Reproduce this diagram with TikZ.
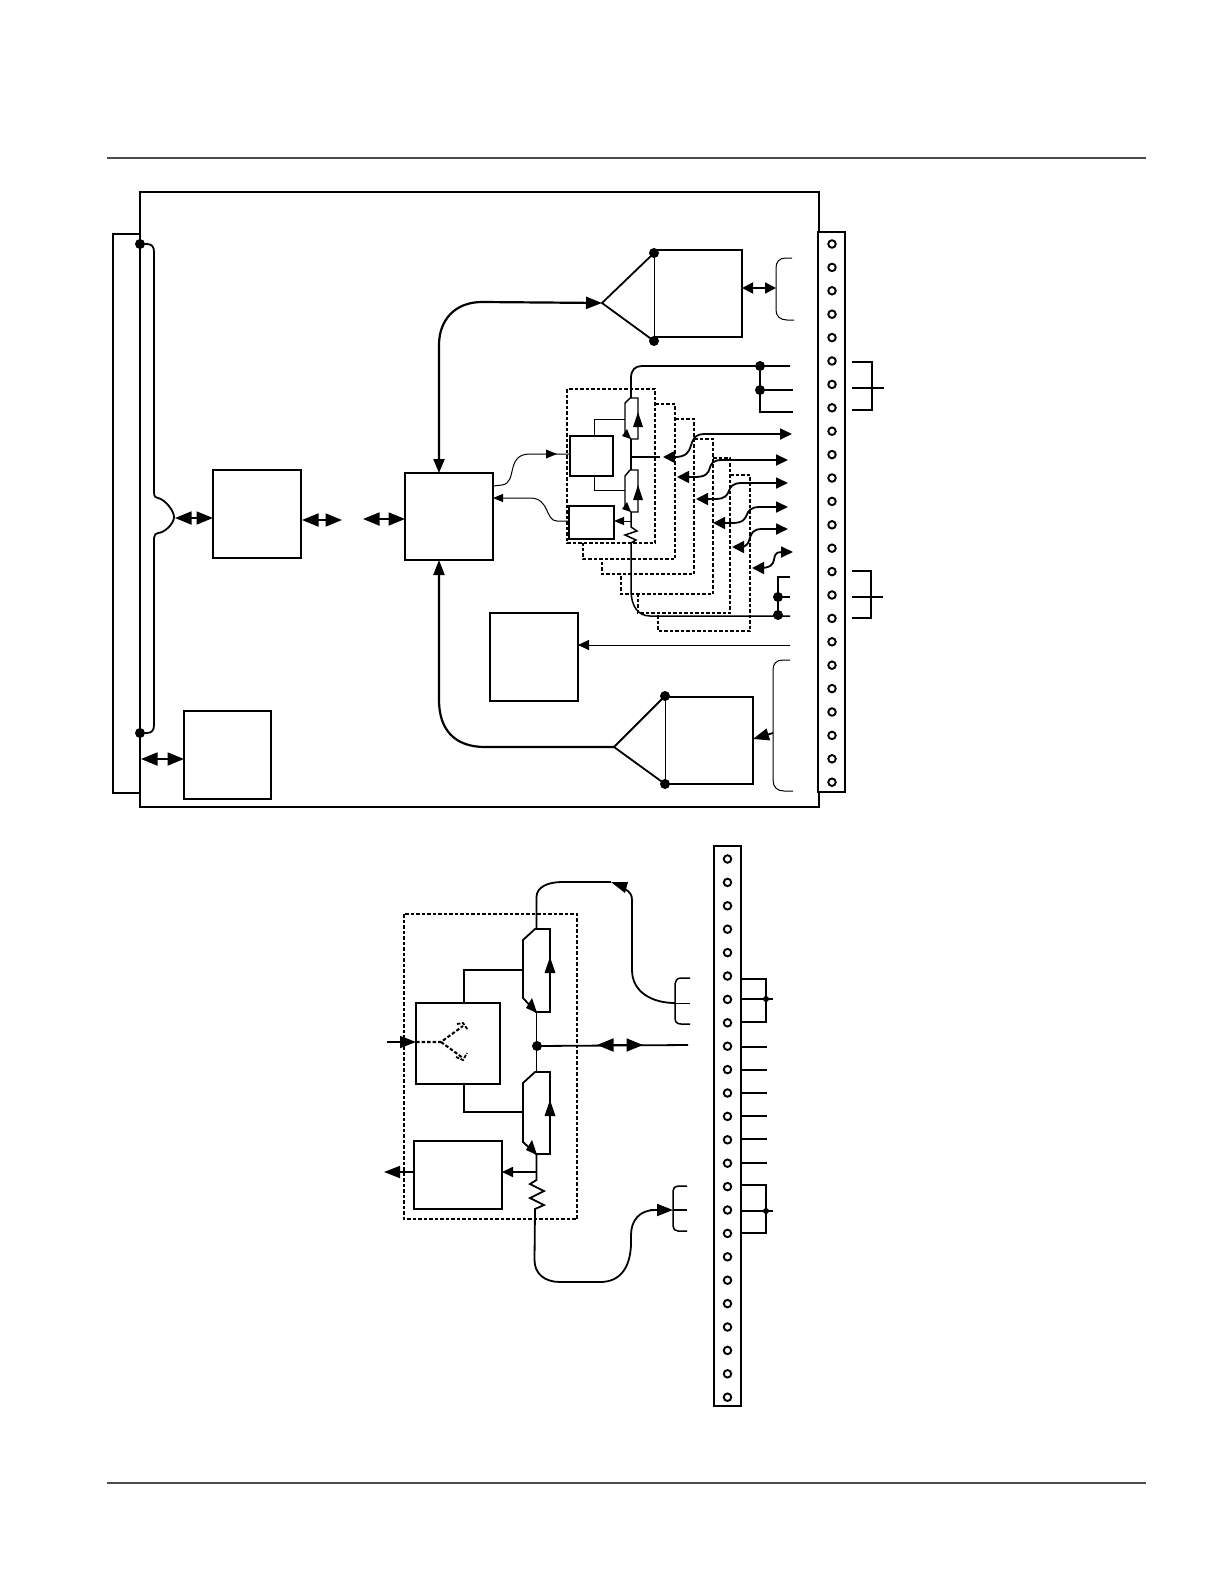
\documentclass[tikz,border=0pt]{standalone}
\usetikzlibrary{arrows.meta,calc}
\tikzset{
  x=1pt,y=-1pt,
  ln/.style={line width=1.8pt,draw=black},
  thick2/.style={line width=2.2pt,draw=black},
  thin1/.style={line width=1pt,draw=black},
  pbox/.style={draw=black,line width=1.8pt,fill=white,inner sep=0pt,outer sep=0pt,rectangle},
  tbox/.style={draw=black,line width=1pt,fill=white,inner sep=0pt,outer sep=0pt,rectangle},
  rule/.style={line width=1.4pt,draw=black!70},
  dbox/.style={line width=2.1pt,draw=black,dash pattern=on 3.5pt off 2pt},
  dotn/.style={circle,fill=black,inner sep=0pt,minimum size=10pt},
  smalldot/.style={circle,fill=black,inner sep=0pt,minimum size=6pt},
  term/.style={circle,draw=black,line width=1.9pt,fill=white,inner sep=0pt,minimum size=7.5pt},
  big/.style={-{Triangle[length=16pt,width=12pt]}},
  mid/.style={-{Triangle[length=11pt,width=10pt]}},
  small/.style={-{Triangle[length=10pt,width=8pt]}},
  bibig/.style={{Triangle[length=16.5pt,width=13pt]}-{Triangle[length=16.5pt,width=13pt]}},
  bimid/.style={{Triangle[length=11pt,width=11pt]}-{Triangle[length=11pt,width=11pt]}},
  bistair/.style={{Triangle[length=12pt,width=12pt]}-{Triangle[length=12pt,width=11pt]}},
}
\newcommand{\ptbox}[5]{\node[pbox,minimum width=#4pt-#2pt,minimum height=#5pt-#3pt] (#1) at ({(#2+#4)/2},{(#3+#5)/2}) {};}
\newcommand{\ttbox}[5]{\node[tbox,minimum width=#4pt-#2pt,minimum height=#5pt-#3pt] (#1) at ({(#2+#4)/2},{(#3+#5)/2}) {};}
\begin{document}
\begin{tikzpicture}
\useasboundingbox (0,0) rectangle (1224,1584);
\fill[white] (0,0) rectangle (1224,1584);
% page rules
\coordinate (r1a) at (107,158); \coordinate (r1b) at (1146,158);
\coordinate (r2a) at (107,1483); \coordinate (r2b) at (1146,1483);
\draw[rule] (r1a) -- (r1b);
\draw[rule] (r2a) -- (r2b);

%%% ---------- upper figure ----------
\draw[ln] (140,234) -- (113,234) -- (113,793) -- (140,793);
\draw[ln] (819,232) -- (819,192) -- (140,192) -- (140,807) -- (819,807) -- (819,792);
% terminal strip
\node[pbox,minimum width=27pt,minimum height=560pt] (stripA) at (831.5,512) {};
\foreach \i in {0,...,23} \node[term] (ta\i) at (832,{244+\i*23.4}) {};

% blocks
\ptbox{bA}{213}{470}{301}{558}
\ptbox{bB}{184}{711}{271}{799}
\ptbox{bC}{405}{473}{493}{560}
\ptbox{bD}{490}{613}{578}{701}

% bus
\node[dotn] (busT) at (140,244) {};
\node[dotn] (busB) at (140,733) {};
\coordinate (bump) at (174,517);
\draw[ln] (busT) -- (147,244) .. controls (152,244) and (154,247) .. (154,252) -- (154,492)
  .. controls (154,497) and (156,498) .. (158,498)
  .. controls (164,499) and (174,510) .. (bump)
  .. controls (174,524) and (164,533) .. (158,533)
  .. controls (156,533) and (154,535) .. (154,538) -- (154,725)
  .. controls (154,730) and (152,733) .. (147,733) -- (busB);

% double arrows
\coordinate (a1) at (175,518);
\draw[ln,bibig] (a1) -- (bA.west |- a1);
\coordinate (a2) at (302,520); \coordinate (a2b) at (342,520);
\draw[ln,bibig] (a2) -- (a2b);
\coordinate (a3) at (363,519);
\draw[ln,bibig] (a3) -- (bC.west |- a3);
\coordinate (a4) at (141,759);
\draw[ln,bibig] (a4) -- (bB.west |- a4);

% top amp
\ttbox{ampT}{654}{250}{742}{337}
\coordinate (ampTa) at (602,303);
\node[dotn] (dT1) at (654,253) {};
\node[dotn] (dT2) at (654,341) {};
\draw[ln] (dT1.center) -- (ampTa) -- (dT2.center);
\draw[ln] (654,250) -- (742,250) -- (742,337) -- (654,337);
\draw[thick2,{Triangle[length=14pt,width=11pt]}-{Triangle[length=16pt,width=12pt]}] (439,473) -- (439,345) .. controls (439,320) and (455,302) .. (482,302) -- (ampTa);
% top brace
\coordinate (brT1) at (792,258); \coordinate (brT2) at (794,320); \coordinate (brTm) at (776,288);
\draw[thin1] (brT1) -- (786,258) .. controls (779,258) and (776,262) .. (776,268) -- (776,310) .. controls (776,316) and (780,320) .. (787,320) -- (brT2);
\draw[ln,bimid] (ampT.east |- brTm) -- (brTm);

% bottom amp
\ttbox{ampB}{665}{697}{753}{784}
\coordinate (ampBa) at (614,747);
\node[dotn] (dB1) at (665,696) {};
\node[dotn] (dB2) at (665,784) {};
\draw[ln] (dB1.center) -- (ampBa) -- (dB2.center);
\draw[ln] (665,697) -- (753,697) -- (753,784) -- (665,784);
\draw[thick2,{Triangle[length=15pt,width=11pt]}-] (439,560) -- (439,700) .. controls (439,730) and (455,747) .. (485,747) -- (ampBa);
% bottom brace
\coordinate (brB1) at (790,660); \coordinate (brB2) at (793,791); \coordinate (brBm) at (773,733);
\draw[thin1] (brB1) -- (783,660) .. controls (776,660) and (773,664) .. (773,670) -- (773,780) .. controls (773,787) and (777,791) .. (784,791) -- (brB2);
\draw[ln,big] (brBm) -- (753,739);

% thin input to bD
\coordinate (dIn) at (790,645);
\draw[thin1,mid] (dIn) -- (bD.east |- dIn);

% dashed staircase (behind)
\draw[dbox] (655,404) -- (675,404) -- (675,559) -- (583,559) -- (583,543);
\draw[dbox] (675,419) -- (694,419) -- (694,574) -- (602,574) -- (602,559);
\draw[dbox] (694,439) -- (713,439) -- (713,594) -- (621,594) -- (621,574);
\draw[dbox] (713,458) -- (730,458) -- (730,613) -- (638,613) -- (638,594);
\draw[dbox] (730,475) -- (750,475) -- (750,631) -- (658,631) -- (658,613);
\draw[dbox] (567,389) rectangle (655,543);

% small blocks
\ptbox{sA}{570}{436}{613}{476}
\ptbox{sB}{569}{506}{614}{539}
% switches
\draw[thin1] (594,436) -- (594,419) -- (625,419);
\draw[thin1] (594,476) -- (594,490) -- (625,490);
\draw[ln,line width=1.4pt] (631,398) -- (630,398) -- (625,403) -- (625,433) -- (631,439) -- (638,439) -- (638,398) -- cycle;
\draw[ln,line width=1.4pt] (630,470) -- (625,476) -- (625,506) -- (631,512) -- (638,512) -- (638,470) -- cycle;
\fill (638,412) -- (633,427) -- (643,427) -- cycle;
\fill (638,485) -- (633,500) -- (643,500) -- cycle;
\fill (631,439) -- (622,436) -- (627,429) -- cycle;
\fill (631,512) -- (622,509) -- (627,502) -- cycle;
\draw[ln,line width=1.3pt] (631,439) -- (631,470);
\coordinate (sJ) at (631,457);
% lines
\draw[ln] (631,398) -- (631,378) .. controls (631,370) and (635,366) .. (642,366) -- (790,366);
\node[dotn] (d1) at (760,366) {};
\node[dotn] (d2) at (760,390) {};
\coordinate (s1) at (793,390); \coordinate (s2) at (793,412);
\draw[ln] (d2) -- (s1);
\draw[ln] (d1) -- (760,412) -- (s2);
\draw[ln,line width=1.5pt] (631,512) -- (631,527) -- (637,531) -- (625,535) -- (636,540) -- (631,543) -- (631,590)
  .. controls (631,606) and (638,616) .. (650,616) -- (790,616);
\coordinate (sBr) at (631,521);
\draw[thin1,small] (sBr) -- (sB.east |- sBr);
\node[dotn] (d3) at (778,597) {};
\node[dotn] (d4) at (778,615) {};
\coordinate (s3) at (790,597); \coordinate (s4) at (790,577);
\draw[ln] (d3) -- (s3);
\draw[ln] (d4) -- (778,577) -- (s4);

% arrows staircase
\coordinate (o1) at (792,434); \coordinate (o2) at (788,460); \coordinate (o3) at (788,483);
\coordinate (o4) at (788,507); \coordinate (o5) at (788,529); \coordinate (o6) at (793,552);
\draw[ln,bistair] (663,457) -- (673,457)
  .. controls (700,458) and (683,434) .. (705,434) -- (o1);
\draw[ln] (sJ) -- (660,457);
\draw[ln,bistair] (677,477) -- (695,477)
  .. controls (718,477) and (702,460) .. (722,460) -- (o2);
\draw[ln,bistair] (696,499) -- (715,499)
  .. controls (736,499) and (722,483) .. (742,483) -- (o3);
\draw[ln,bistair] (713,523) -- (732,523)
  .. controls (754,523) and (740,507) .. (760,507) -- (o4);
\draw[ln,bistair] (732,547) -- (740,547)
  .. controls (755,547) and (744,529) .. (762,529) -- (o5);
\draw[ln,bistair] (752,568) -- (760,568)
  .. controls (782,568) and (768,552) .. (o6);

% main block to small blocks
\coordinate (c1) at (493,486); \coordinate (c2) at (493,498);
\draw[thin1] (c1) -- (502,485) .. controls (518,483) and (505,454) .. (530,454) -- (sA.west |- 0,454);
\fill (557,454) -- ++(-11,-4.5) -- ++(0,9) -- cycle;
\draw[thin1,small] (sB.west |- 0,521) -- (557,521) .. controls (545,521) and (550,498) .. (530,498) -- (c2);

% external stubs
\draw[ln] (852,362) -- (872,362) -- (872,410) -- (852,410);
\draw[ln] (852,388) -- (884,388);
\draw[ln] (852,571) -- (871,571) -- (871,618) -- (852,618);
\draw[ln] (852,597) -- (883,597);

%%% ---------- lower figure ----------
\node[pbox,minimum width=27pt,minimum height=560pt] (stripB) at (727.5,1126) {};
\foreach \i in {0,...,23} \node[term] (tb\i) at (727.5,{859+\i*23.4}) {};

\draw[dbox] (404,914) rectangle (577,1219);
\ptbox{lA}{416}{1003}{500}{1084}
\ptbox{lB}{414}{1141}{502}{1209}

\draw[ln] (464,1003) -- (464,970) -- (523,970);
\draw[thin1,line width=1.2pt] (464,1084) -- (464,1112) -- (523,1112);
\draw[ln] (535,929) -- (523,940) -- (523,998) -- (536,1012) -- (550,1012) -- (550,929) -- cycle;
\draw[ln] (535,1072) -- (523,1083) -- (523,1142) -- (536,1154) -- (550,1154) -- (550,1072) -- cycle;
\fill (550,957) -- (544.5,973) -- (555.5,973) -- cycle;
\fill (550,1100) -- (544.5,1116) -- (555.5,1116) -- cycle;
\fill (537,1013) -- (526,1008) -- (532,998) -- cycle;
\fill (537,1155) -- (526,1150) -- (532,1140) -- cycle;
\draw[ln] (536.5,1012) -- (536.5,1072);
\node[dotn] (dl) at (537,1046) {};
\coordinate (lOut) at (688,1045);
\draw[ln] (dl) -- (lOut);
\draw[ln,bibig] (597,1045) -- (643,1045);

% top loop with brace
\coordinate (lb1) at (690,978); \coordinate (lb2) at (690,1024); \coordinate (lbm) at (675,1003);
\draw[ln,line width=1.5pt] (lb1) -- (681,978) .. controls (677,978) and (675,981) .. (675,984) -- (675,1018) .. controls (675,1022) and (677,1024) .. (681,1024) -- (lb2);
\draw[thin1] (lbm) -- (690,1003);
\draw[ln] (536.5,929) -- (536.5,897) .. controls (536.5,887) and (548,882) .. (562,882) -- (611,882);
\fill (611,882) -- (628,882) -- (625,893) -- cycle;
\draw[ln] (625,889) .. controls (630,892) and (632,895) .. (632,900) -- (632,970) .. controls (632,992) and (652,1003) .. (lbm);

% bottom loop with brace
\coordinate (lc1) at (687,1186); \coordinate (lc2) at (687,1231); \coordinate (lcm) at (673,1210);
\draw[ln,line width=1.5pt] (lc1) -- (678,1186) .. controls (675,1186) and (673,1188) .. (673,1191) -- (673,1226) .. controls (673,1229) and (675,1231) .. (678,1231) -- (lc2);
\draw[ln] (lcm) -- (687,1210);
\draw[ln] (536.5,1154) -- (536.5,1180) -- (530,1184) -- (544,1191) -- (530,1198) -- (544,1205) -- (535,1209) -- (534.5,1260)
  .. controls (534.5,1274) and (545,1282) .. (560,1282) -- (600,1282)
  .. controls (620,1282) and (630,1268) .. (631,1245) -- (631,1235)
  .. controls (631,1220) and (640,1210) .. (655,1210);
\draw[ln,big] (650,1210) -- (lcm);
\coordinate (lBr) at (537,1172);
\draw[ln,mid] (lBr) -- (lB.east |- lBr);
\coordinate (lBl) at (384,1172);
\draw[ln,big] (lB.west |- lBl) -- (lBl);
\coordinate (lAl) at (387,1042);
\draw[ln,big] (lAl) -- (lA.west |- lAl);

% split in block
\coordinate (y0) at (441,1042); \coordinate (y1) at (463,1026); \coordinate (y2) at (463,1058);
\draw[dbox] (lA.west |- y0) -- (y0) -- (y1);
\draw[dbox] (y0) -- (y2);
\draw[line width=1.8pt,dash pattern=on 3.5pt off 1.5pt] (457,1024) -- (463,1023) -- (468,1030);
\draw[line width=1.8pt,dash pattern=on 3.5pt off 1.5pt] (456,1057) -- (463,1060) -- (467,1053);

% external stubs
\draw[ln] (741,979) -- (766,979) -- (766,1022) -- (741,1022);
\draw[ln] (741,999) -- (773,999);
\node[smalldot] (ds1) at (766,999) {};
\foreach \y in {1047,1070,1093,1116,1139,1163} \draw[ln] (741,\y) -- (767,\y);
\draw[ln] (741,1185) -- (766,1185) -- (766,1233) -- (741,1233);
\draw[ln] (741,1211) -- (773,1211);
\node[smalldot] (ds2) at (766,1211) {};
\end{tikzpicture}
\end{document}
